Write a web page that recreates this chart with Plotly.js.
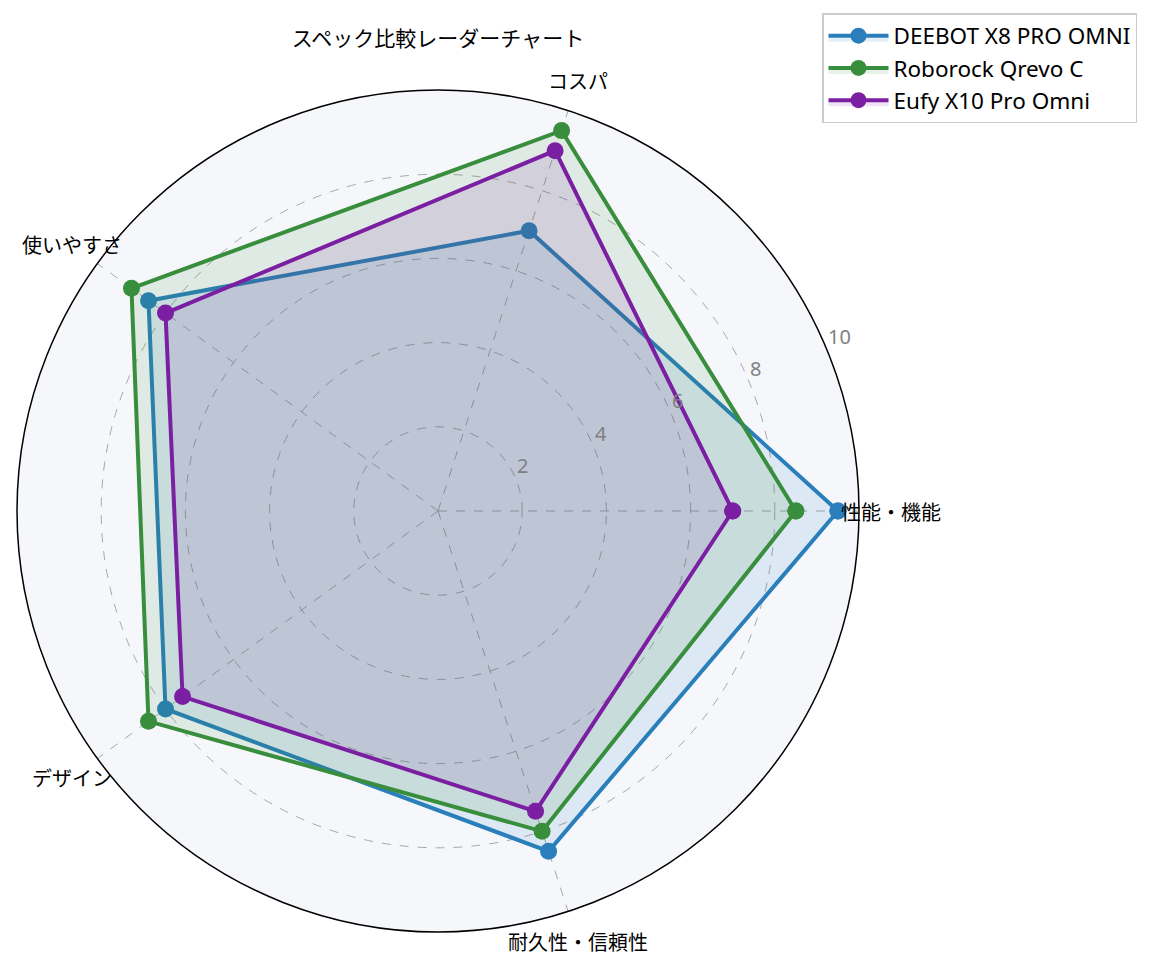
<!DOCTYPE html>
<html>
<head>
<meta charset="utf-8">
<script src="https://cdn.plot.ly/plotly-3.0.1.min.js"></script>
<style>
  body { margin: 0; background: #fff; }
  #chart { width: 1160px; height: 966px; }
</style>
</head>
<body>
<div id="chart"></div>
<script>
var categories = ['性能・機能', 'コスパ', '使いやすさ', 'デザイン', '耐久性・信頼性'];
var seriesNames = ['DEEBOT X8 PRO OMNI', 'Roborock Qrevo C', 'Eufy X10 Pro Omni'];
var deebotValues = [9.5, 7.0, 8.5, 8.0, 8.5];
var roborockValues = [8.5, 9.5, 9.0, 8.5, 8.0];
var eufyValues = [7.0, 9.0, 8.0, 7.5, 7.5];
var radialTicks = [2, 4, 6, 8, 10];

var colors = ['#2a7fba', '#388e3c', '#7b1fa2'];
var fills = ['rgba(42,127,186,0.12)', 'rgba(56,142,60,0.12)', 'rgba(123,31,162,0.12)'];
var allValues = [deebotValues, roborockValues, eufyValues];

var W = 1160, H = 966;
// polar plot box in pixels
var cx = 438, cy = 511, R = 421, rMax = 10;

// close the polygon by repeating the first point
function closed(arr) {
    return arr.concat([arr[0]]);
}

var traces = allValues.map(function (vals, i) {
    return {
        type: 'scatterpolar',
        r: closed(vals),
        theta: closed(categories),
        name: seriesNames[i],
        mode: 'lines+markers',
        fill: 'toself',
        fillcolor: fills[i],
        line: { color: colors[i], width: 4 },
        marker: { color: colors[i], size: 17 }
    };
});

// matplotlib style labels: categories centred just outside the rim,
// radial tick labels left/bottom aligned along the 22.5 degree line
var annotations = [];
categories.forEach(function (c, i) {
    var a = i * 2 * Math.PI / categories.length;
    var d = R + 32;
    annotations.push({
        text: c,
        xref: 'paper', yref: 'paper',
        x: (cx + d * Math.cos(a)) / W,
        y: 1 - (cy - d * Math.sin(a)) / H,
        xanchor: 'center', yanchor: 'middle',
        showarrow: false,
        font: { size: 20, color: '#000' }
    });
});
radialTicks.forEach(function (t) {
    var a = 22.5 * Math.PI / 180;
    var d = t / rMax * R;
    annotations.push({
        text: String(t),
        xref: 'paper', yref: 'paper',
        x: (cx + d * Math.cos(a)) / W,
        y: 1 - (cy - d * Math.sin(a)) / H,
        xanchor: 'left', yanchor: 'bottom',
        xshift: -1, yshift: -2,
        showarrow: false,
        font: { family: '"Noto Sans", sans-serif', size: 20, color: '#808080' }
    });
});

var layout = {
    width: W,
    height: H,
    margin: { t: 0, b: 0, l: 0, r: 0 },
    paper_bgcolor: '#ffffff',
    font: { family: '"Noto Sans CJK JP", "Noto Sans", sans-serif', color: '#000' },
    title: {
        text: 'スペック比較レーダーチャート',
        font: { size: 21, color: '#000' },
        x: 438 / W,
        xanchor: 'center',
        y: 1 - 39 / H,
        yanchor: 'middle'
    },
    showlegend: true,
    legend: {
        x: 822 / W,
        y: 1 - 13 / H,
        xanchor: 'left',
        yanchor: 'top',
        bgcolor: '#ffffff',
        bordercolor: '#cccccc',
        borderwidth: 1.5,
        itemwidth: 60,
        font: { family: '"Noto Sans", sans-serif', size: 22.5, color: '#000' },
        tracegroupgap: 0
    },
    annotations: annotations,
    polar: {
        domain: { x: [(cx - R) / W, (cx + R) / W], y: [1 - (cy + R) / H, 1 - (cy - R) / H] },
        bgcolor: '#f5f7fb',
        radialaxis: {
            range: [0, rMax],
            tickvals: radialTicks,
            angle: 22.5,
            showline: false,
            showticklabels: false,
            ticks: '',
            gridcolor: '#a8a8a8',
            griddash: 'dash',
            gridwidth: 0.8
        },
        angularaxis: {
            rotation: 0,
            direction: 'counterclockwise',
            showline: true,
            linecolor: '#000000',
            linewidth: 1.5,
            ticks: '',
            showticklabels: false,
            gridcolor: '#a8a8a8',
            griddash: 'dash',
            gridwidth: 0.8
        }
    }
};

Plotly.newPlot('chart', traces, layout, { displayModeBar: false });
</script>
</body>
</html>
